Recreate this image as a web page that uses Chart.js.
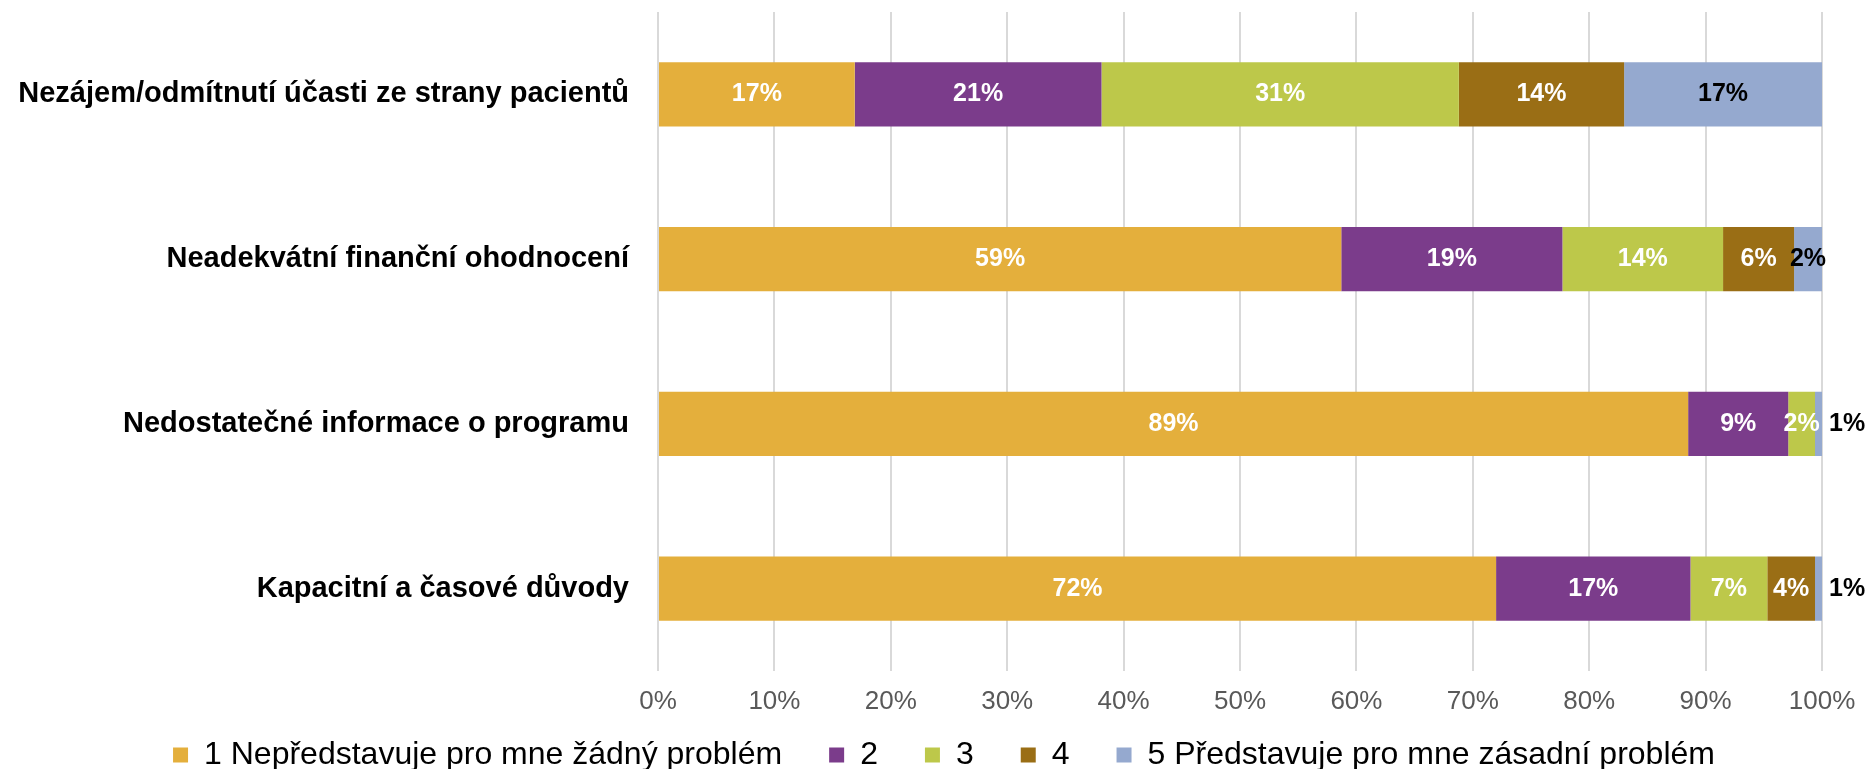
<!DOCTYPE html>
<html>
<head>
<meta charset="utf-8">
<script src="https://cdn.jsdelivr.net/npm/chart.js@4.4.1/dist/chart.umd.min.js"></script>
<style>
html,body{margin:0;padding:0;background:#fff;}
#wrap{width:1867px;height:769px;position:relative;}
</style>
</head>
<body>
<div id="wrap"><canvas id="c" width="1867" height="769"></canvas></div>
<script>
const categories = [
  "Nezájem/odmítnutí účasti ze strany pacientů",
  "Neadekvátní finanční ohodnocení",
  "Nedostatečné informace o programu",
  "Kapacitní a časové důvody"
];
const seriesNames = [
  "1 Nepředstavuje pro mne žádný problém",
  "2",
  "3",
  "4",
  "5 Představuje pro mne zásadní problém"
];
const s1 = [16.9, 58.7, 88.5, 72.0];
const s2 = [21.2, 19.0, 8.6, 16.7];
const s3 = [30.7, 13.8, 2.3, 6.6];
const s4 = [14.2, 6.1, 0, 4.1];
const s5 = [17.0, 2.4, 0.6, 0.6];
const xTicks = [0,10,20,30,40,50,60,70,80,90,100];

const colors = ["#E4AF3C", "#7B3C8B", "#BDC84A", "#9A6E15", "#95A9CF"];
const labelColors = ["#FFFFFF", "#FFFFFF", "#FFFFFF", "#FFFFFF", "#000000"];
const seriesData = [s1, s2, s3, s4, s5];

const FONT = "'Liberation Sans', Arial, sans-serif";
const LEGEND_PAD = 47;
const LEGEND_FONT = 32;
const LEGEND_CENTER_Y = 755;
const LEGEND_H = 48;
const LEGEND_SHIFT_X = 33;

const labelPlugin = {
  id: 'segLabels',
  beforeLayout(chart) {
    const lg = chart.legend;
    if (lg && !lg._fitWrapped) {
      const orig = lg.fit.bind(lg);
      lg.fit = function () { orig(); this.height = LEGEND_H; };
      lg._fitWrapped = true;
    }
  },
  afterLayout(chart) {
    const lg = chart.legend;
    if (lg) {
      const itemH = LEGEND_FONT;
      lg.top = LEGEND_CENTER_Y - itemH / 2 - LEGEND_PAD;
      lg.bottom = chart.height;
      lg.left += LEGEND_SHIFT_X;
      lg.right += LEGEND_SHIFT_X;
    }
  },
  afterDatasetsDraw(chart) {
    const ctx = chart.ctx;
    ctx.save();
    ctx.font = "bold 25px " + FONT;
    ctx.textBaseline = 'middle';
    chart.data.datasets.forEach((ds, di) => {
      const meta = chart.getDatasetMeta(di);
      meta.data.forEach((el, i) => {
        const v = ds.data[i];
        if (!v) return;
        const txt = Math.round(v) + '%';
        const left = Math.min(el.x, el.base), right = Math.max(el.x, el.base);
        const w = right - left;
        if (w < 15) {
          ctx.fillStyle = '#000000';
          ctx.textAlign = 'left';
          ctx.fillText(txt, right + 7, el.y);
        } else {
          ctx.fillStyle = labelColors[di];
          ctx.textAlign = 'center';
          ctx.fillText(txt, (left + right) / 2, el.y);
        }
      });
    });
    ctx.restore();
  }
};

new Chart(document.getElementById('c'), {
  type: 'bar',
  data: {
    labels: categories,
    datasets: seriesData.map((d, i) => ({
      label: seriesNames[i],
      data: d,
      backgroundColor: colors[i],
      borderWidth: 0,
      categoryPercentage: 1.0,
      barPercentage: 0.39
    }))
  },
  options: {
    indexAxis: 'y',
    responsive: false,
    animation: false,
    devicePixelRatio: 1,
    layout: { padding: { top: 12, left: 0, right: 45, bottom: 0 } },
    scales: {
      x: {
        stacked: true,
        min: 0, max: 100,
        afterBuildTicks(scale) { scale.ticks = xTicks.map(v => ({ value: v })); },
        afterFit(scale) { scale.height = 50; scale.paddingLeft = 0; scale.paddingRight = 0; },
        grid: { color: '#D9D9D9', lineWidth: 2, drawTicks: false },
        border: { display: false },
        ticks: {
          padding: 15,
          color: '#595959',
          font: { family: FONT, size: 26 },
          callback: v => v + '%',
          maxRotation: 0
        }
      },
      y: {
        stacked: true,
        afterFit(scale) { scale.width = 658; scale.paddingTop = 0; scale.paddingBottom = 0; },
        grid: { display: false, drawTicks: false },
        border: { display: false },
        ticks: {
          padding: 29,
          color: '#000000',
          font: { family: FONT, size: 29, weight: 'bold' }
        }
      }
    },
    plugins: {
      legend: {
        position: 'bottom',
        labels: {
          boxWidth: 15,
          boxHeight: 15,
          padding: LEGEND_PAD,
          color: '#000000',
          font: { family: FONT, size: LEGEND_FONT }
        }
      },
      tooltip: { enabled: false }
    }
  },
  plugins: [labelPlugin]
});
</script>
</body>
</html>
